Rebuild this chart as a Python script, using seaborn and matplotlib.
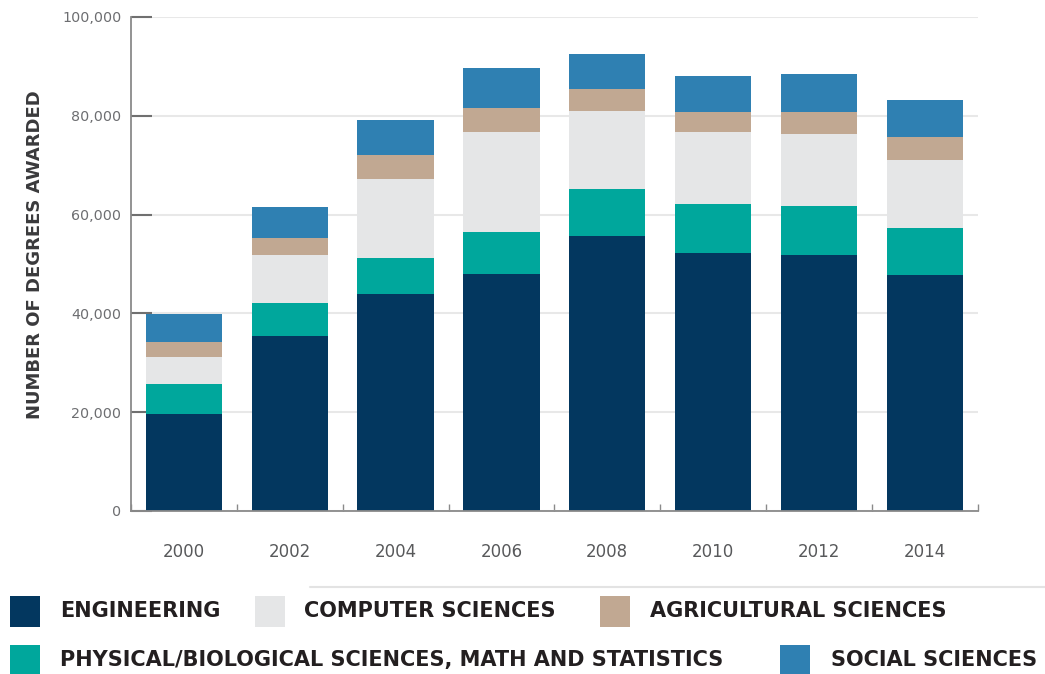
import matplotlib
matplotlib.use("Agg")
import matplotlib.pyplot as plt
from matplotlib.patches import Rectangle
from matplotlib.ticker import FuncFormatter, MultipleLocator
import numpy as np
import pandas as pd
import seaborn as sns

# Degrees awarded by field, every other year
years = ["2000", "2002", "2004", "2006", "2008", "2010", "2012", "2014"]
engineering = [19600, 35500, 43900, 48000, 55700, 52300, 51800, 47800]
physical_bio_math = [6100, 6600, 7400, 8400, 9500, 9800, 10000, 9400]
computer_sciences = [5400, 9700, 15800, 20300, 15800, 14600, 14500, 13800]
agricultural_sciences = [3200, 3400, 5000, 4800, 4500, 4100, 4500, 4600]
social_sciences = [5500, 6300, 7000, 8100, 6900, 7300, 7600, 7600]

series_names = [
    "ENGINEERING",
    "PHYSICAL/BIOLOGICAL SCIENCES, MATH AND STATISTICS",
    "COMPUTER SCIENCES",
    "AGRICULTURAL SCIENCES",
    "SOCIAL SCIENCES",
]
series_values = [engineering, physical_bio_math, computer_sciences,
                 agricultural_sciences, social_sciences]
series_colors = ["#03375f", "#00a79c", "#e5e6e7", "#c1a892", "#2f80b2"]

y_ticks = [0, 20000, 40000, 60000, 80000, 100000]

sns.set_theme(style="white")
plt.rcParams["font.family"] = ["DejaVu Sans"]

W, H = 1045, 674
fig = plt.figure(figsize=(W / 100, H / 100), dpi=100)
ax = fig.add_axes([131 / W, 1 - 511 / H, (977.7 - 131) / W, (511 - 16.9) / H])

# Stacked bars: draw cumulative totals from the top layer down
cum = np.cumsum(np.array(series_values), axis=0)
for i in reversed(range(len(series_names))):
    df = pd.DataFrame({"year": years, "value": cum[i]})
    sns.barplot(data=df, x="year", y="value", color=series_colors[i],
                saturation=1, width=0.72, linewidth=0, ax=ax, zorder=3)

ax.set_xlim(-0.5, len(years) - 0.5)
ax.set_ylim(0, 100000)
ax.set_yticks(y_ticks)
ax.yaxis.set_major_formatter(FuncFormatter(lambda v, p: f"{int(v):,}"))
ax.yaxis.grid(True, color="#e8e8e8", linewidth=1.5, zorder=0)
ax.xaxis.grid(False)
ax.set_axisbelow(True)

for side in ["top", "right"]:
    ax.spines[side].set_visible(False)
for side in ["left", "bottom"]:
    ax.spines[side].set_color("#8a8a8a")
    ax.spines[side].set_linewidth(1.3)
    ax.spines[side].set_zorder(4)

ax.tick_params(axis="y", direction="in", length=15, width=1.5, color="#707070",
               pad=7, labelsize=10.3, labelcolor="#6d6e71", left=True)
ax.tick_params(axis="x", which="major", length=0, pad=23, labelsize=12,
               labelcolor="#58595b")
ax.xaxis.set_minor_locator(MultipleLocator(1, offset=0.5))
ax.tick_params(axis="x", which="minor", direction="in", length=5, width=1,
               color="#8a8a8a", bottom=True)
ax.set_xlabel("")
ax.set_ylabel("")

fig.text(35 / W, 1 - 255 / H, "NUMBER OF DEGREES AWARDED", rotation=90,
         ha="center", va="center", fontsize=13, fontweight="bold",
         color="#3a3a3c")

# Thin rule above the legend
fig.add_artist(plt.Line2D([310 / W, 1.0], [1 - 587 / H, 1 - 587 / H],
                          transform=fig.transFigure, color="#e3e3e3", lw=1.5))

# Legend laid out in two rows
legend_items = [
    (0, 10, 60, 611),
    (2, 255, 304, 611),
    (3, 600, 650, 611),
    (1, 10, 60, 660),
    (4, 780, 831, 660),
]
for idx, px, tx, cy in legend_items:
    fig.add_artist(Rectangle((px / W, 1 - (cy + 15.5) / H), 30 / W, 31 / H,
                             transform=fig.transFigure,
                             facecolor=series_colors[idx], edgecolor="none"))
    fig.text(tx / W, 1 - cy / H, series_names[idx], ha="left", va="center",
             fontsize=15, fontweight="bold", color="#231f20")

fig.savefig("out.png", dpi=100)
